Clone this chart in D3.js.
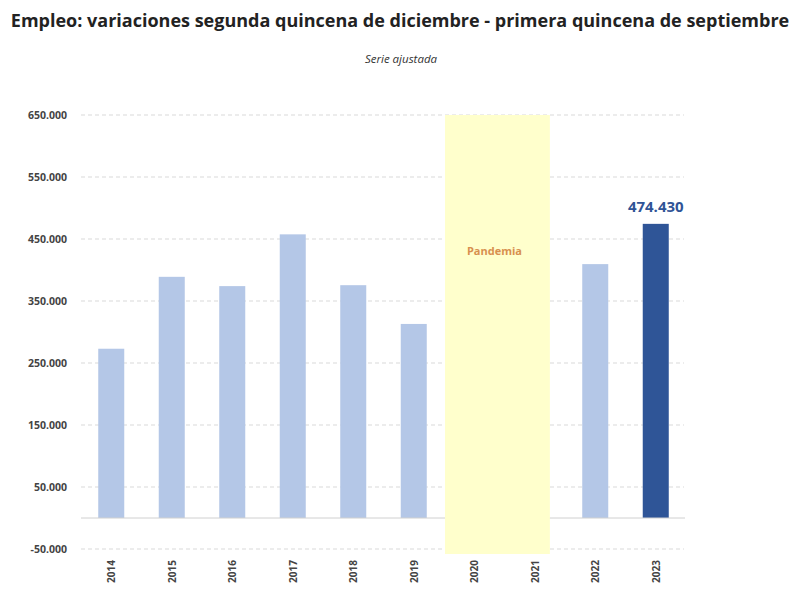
<!DOCTYPE html>
<html>
<head>
<meta charset="utf-8">
<script src="https://cdn.jsdelivr.net/npm/d3@7"></script>
<style>
  body { margin: 0; background: #fff; }
  text { font-family: "Open Sans", sans-serif; }
</style>
</head>
<body>
<svg id="chart" width="800" height="600"></svg>
<script>
// data
var years = ["2014", "2015", "2016", "2017", "2018", "2019", "2020", "2021", "2022", "2023"]
var barYears = ["2014", "2015", "2016", "2017", "2018", "2019", "2022", "2023"]
var values = [273000, 389000, 374000, 457500, 375500, 313000, 409500, 474430]
var yTicks = [-50000, 50000, 150000, 250000, 350000, 450000, 550000, 650000]
var pandemicYears = ["2020", "2021"]

var svg = d3.select("#chart")
var left = 81, right = 686
var fmt = d3.formatLocale({decimal: ",", thousands: ".", grouping: [3], currency: ["", ""], minus: "-"}).format(",")

var x = d3.scaleBand().domain(years).range([left, right]).paddingInner(0.57).paddingOuter(0.285)
var y = d3.scaleLinear().domain([-50000, 650000]).range([549, 115])

// title
svg.append("text")
    .attr("x", 400).attr("y", 27)
    .attr("text-anchor", "middle")
    .style("font-size", "18px").style("font-weight", "bold").style("fill", "#222")
    .text("Empleo: variaciones segunda quincena de diciembre - primera quincena de septiembre")
svg.append("text")
    .attr("x", 401).attr("y", 63)
    .attr("text-anchor", "middle")
    .style("font-size", "11.5px").style("font-style", "italic").style("fill", "#333")
    .text("Serie ajustada")

// gridlines
svg.append("g").selectAll("line").data(yTicks).join("line")
    .attr("x1", left).attr("x2", right - 2)
    .attr("y1", d => y(d)).attr("y2", d => y(d))
    .style("stroke", "#d9d9d9").style("stroke-width", 1)
    .style("stroke-dasharray", "4,3")

// y labels
svg.append("g").selectAll("text").data(yTicks).join("text")
    .attr("x", 67).attr("y", d => y(d) + 4)
    .attr("text-anchor", "end")
    .style("font-size", "10.5px").style("font-weight", "bold").style("fill", "#444")
    .text(d => fmt(d))

// bars
svg.append("g").selectAll("rect").data(barYears).join("rect")
    .attr("x", d => x(d))
    .attr("width", x.bandwidth())
    .attr("y", (d, i) => y(values[i]))
    .attr("height", (d, i) => y(0) - y(values[i]))
    .style("fill", (d, i) => i === barYears.length - 1 ? "#2f5597" : "#b4c7e7")

// zero line
svg.append("line")
    .attr("x1", left).attr("x2", right - 1)
    .attr("y1", y(0)).attr("y2", y(0))
    .style("stroke", "#d0d0d0").style("stroke-width", 1)

// pandemic box (drawn over the axis line)
var step = x.step()
var bx0 = x(pandemicYears[0]) - x.paddingInner() * step / 2 + 1
var bx1 = x(pandemicYears[1]) + x.bandwidth() / 2 + 0.25 * step
svg.append("rect")
    .attr("x", bx0).attr("y", y(650000))
    .attr("width", bx1 - bx0).attr("height", 554 - y(650000))
    .style("fill", "#ffffcc")
svg.append("text")
    .attr("x", (bx0 + bx1) / 2 - 3).attr("y", 255)
    .attr("text-anchor", "middle")
    .style("font-size", "11px").style("font-weight", "bold").style("fill", "#d8904f")
    .text("Pandemia")

// value label on last bar
var last = barYears.length - 1
svg.append("text")
    .attr("x", x(barYears[last]) + x.bandwidth() / 2)
    .attr("y", y(values[last]) - 12)
    .attr("text-anchor", "middle")
    .style("font-size", "15px").style("font-weight", "bold").style("fill", "#2f5496")
    .text(fmt(values[last]))

// x labels
svg.append("g").selectAll("text").data(years).join("text")
    .attr("transform", d => "translate(" + (x(d) + x.bandwidth() / 2 + 4) + ",560) rotate(-90)")
    .attr("text-anchor", "end")
    .style("font-size", "10px").style("font-weight", "bold").style("fill", "#444")
    .text(d => d)
</script>
</body>
</html>
